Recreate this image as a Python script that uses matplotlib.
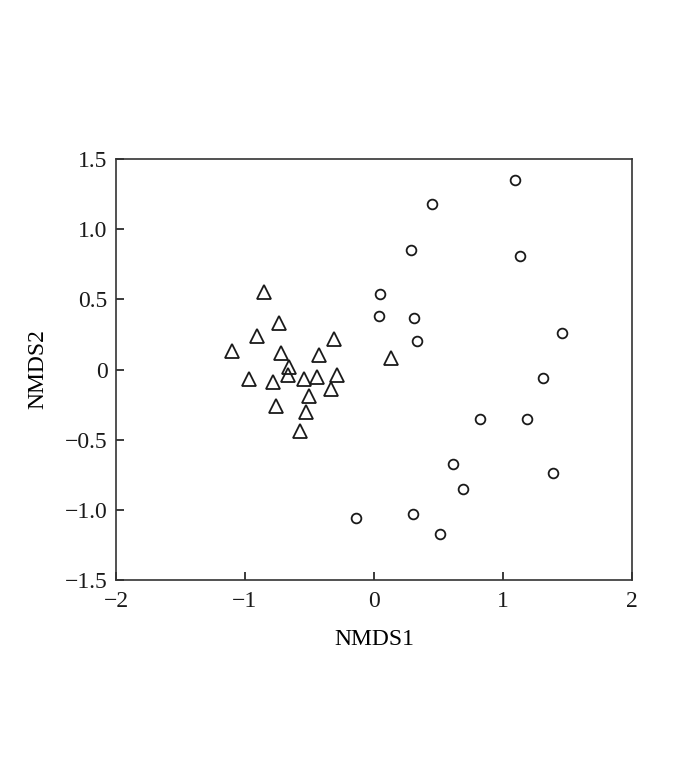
import matplotlib
matplotlib.use("Agg")
import matplotlib.pyplot as plt

plt.rcParams['font.family'] = ['Liberation Serif', 'DejaVu Serif']
plt.rcParams['axes.unicode_minus'] = True

tri_x = [-0.85, -0.74, -0.91, -1.10, -0.72, -0.31, -0.43, -0.66, -0.67, -0.97,
         -0.78, -0.54, -0.44, -0.29, -0.33, -0.50, -0.76, -0.53, -0.57, 0.13]
tri_y = [0.55, 0.33, 0.24, 0.13, 0.12, 0.22, 0.10, 0.02, -0.04, -0.07,
         -0.09, -0.07, -0.05, -0.04, -0.14, -0.19, -0.26, -0.30, -0.44, 0.08]

cir_x = [1.09, 0.45, 0.29, 1.13, 0.05, 0.04, 0.31, 0.33, 1.46, 1.31,
         0.82, 1.19, 0.61, 1.39, 0.69, -0.14, 0.30, 0.51]
cir_y = [1.35, 1.18, 0.85, 0.81, 0.54, 0.38, 0.37, 0.20, 0.26, -0.06,
         -0.35, -0.35, -0.67, -0.74, -0.85, -1.06, -1.03, -1.17]

xticks = [-2, -1, 0, 1, 2]
xticklabels = ['\u22122', '\u22121', '0', '1', '2']
yticks = [-1.5, -1.0, -0.5, 0, 0.5, 1.0, 1.5]
yticklabels = ['\u22121.5', '\u22121.0', '\u22120.5', '0', '0.5', '1.0', '1.5']

fig = plt.figure(figsize=(7.0, 7.67), dpi=100)
ax = fig.add_axes([0.1657, 0.2438, 0.7371, 0.5489])

ax.plot(tri_x, tri_y, linestyle='none', marker='^', markersize=9.5,
        markerfacecolor='none', markeredgecolor='#1a1a1a', markeredgewidth=1.3)
ax.plot(cir_x, cir_y, linestyle='none', marker='o', markersize=7,
        markerfacecolor='none', markeredgecolor='#1a1a1a', markeredgewidth=1.3)

ax.set_xlim(-2, 2)
ax.set_ylim(-1.5, 1.5)
ax.set_xticks(xticks)
ax.set_xticklabels(xticklabels)
ax.set_yticks(yticks)
ax.set_yticklabels(yticklabels)
ax.tick_params(direction='in', length=6, width=1.2, labelsize=17, colors='#1a1a1a')
ax.tick_params(axis='x', pad=8)
ax.tick_params(axis='y', pad=6)
for s in ax.spines.values():
    s.set_linewidth(1.2)
    s.set_color('#333333')

ax.set_xlabel('NMDS1', fontsize=17, labelpad=12)
ax.set_ylabel('NMDS2', fontsize=17, labelpad=12)

fig.savefig('out.png', dpi=100)
